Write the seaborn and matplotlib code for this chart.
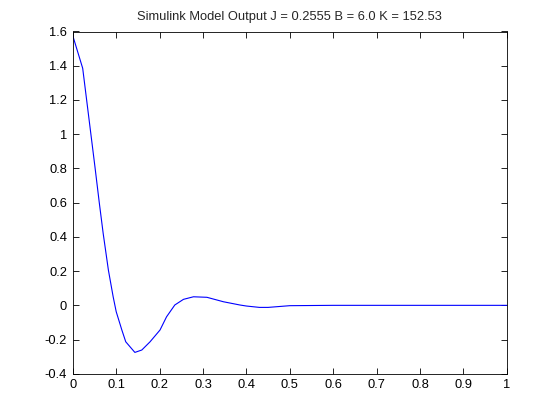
import numpy as np
import pandas as pd
import matplotlib
matplotlib.use('Agg')
import matplotlib.pyplot as plt
import seaborn as sns

# Simulink output
t = [0.0, 0.0228, 0.051, 0.061, 0.070, 0.082, 0.093, 0.100,
     0.113, 0.122, 0.143, 0.159, 0.178, 0.201, 0.216, 0.235, 0.255, 0.278,
     0.309, 0.347, 0.385, 0.400, 0.430, 0.450, 0.480, 0.500, 0.600, 0.800, 1.0]
y = [1.575, 1.385, 0.81, 0.60, 0.42, 0.206, 0.05, -0.037,
     -0.144, -0.213, -0.275, -0.261, -0.213, -0.144, -0.067, 0.002, 0.035, 0.05,
     0.047, 0.021, 0.002, -0.004, -0.012, -0.012, -0.006, -0.002, 0.0, 0.0, 0.0]

xticks = [0, 0.1, 0.2, 0.3, 0.4, 0.5, 0.6, 0.7, 0.8, 0.9, 1]
yticks = [-0.4, -0.2, 0, 0.2, 0.4, 0.6, 0.8, 1, 1.2, 1.4, 1.6]
title = 'Simulink Model Output J = 0.2555 B = 6.0 K = 152.53'

df = pd.DataFrame({'t': t, 'y': y})

sns.set_style('white')
plt.rcParams['font.family'] = ['Liberation Sans', 'DejaVu Sans']

fig = plt.figure(figsize=(5.6, 4.2), dpi=100)
ax = fig.add_axes([0.13, 0.11, 0.775, 0.815])
sns.lineplot(data=df, x='t', y='y', color='#0000ff', linewidth=0.8, ax=ax)

ax.set_xlim(0, 1)
ax.set_ylim(-0.4, 1.6)
ax.set_xticks(xticks)
ax.set_yticks(yticks)
ax.set_xticklabels(['%g' % v for v in xticks])
ax.set_yticklabels(['%g' % v for v in yticks])
ax.set_xlabel('')
ax.set_ylabel('')
ax.tick_params(direction='in', length=4, width=0.6, colors='black',
               labelsize=9.3, top=True, right=True, bottom=True, left=True, pad=4)
for s in ax.spines.values():
    s.set_color('black')
    s.set_linewidth(0.6)
ax.set_title(title, fontsize=9.3, pad=8)

fig.savefig('out.png', dpi=100, facecolor='white')
